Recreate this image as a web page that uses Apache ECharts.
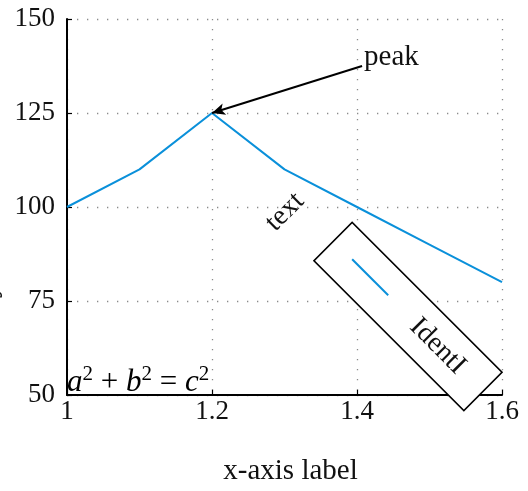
<!DOCTYPE html>
<html>
<head>
<meta charset="utf-8">
<script src="https://cdn.jsdelivr.net/npm/echarts@6/dist/echarts.min.js"></script>
<style>html,body{margin:0;padding:0;background:#fff;}#c{width:528px;height:491px;}</style>
</head>
<body>
<div id="c"></div>
<script>
var xValues = [1, 1.1, 1.2, 1.3, 1.4, 1.5, 1.6];
var yValues = [100, 110, 125, 110, 100, 90, 80];
var seriesName = 'IdentI';
var xTicks = [1, 1.2, 1.4, 1.6];
var yTicks = [50, 75, 100, 125, 150];
var xLabel = 'x-axis label';
var yLabel = 'y-axis label';
var peakFrom = [1.407, 137.5];
var peakTo = [1.2, 125];

var FONT = 'Liberation Serif';
var chart = echarts.init(document.getElementById('c'), null, {renderer: 'canvas'});
var data = xValues.map(function (x, i) { return [x, yValues[i]]; });
var grid = {left: 67, right: 26, top: 19, bottom: 93};
var gridLine = {show: true, lineStyle: {color: '#8a8a8a', width: 1.3, type: [1.3, 8.7]}};

chart.setOption({
  animation: false,
  backgroundColor: '#fff',
  grid: grid,
  xAxis: {
    type: 'value', min: xTicks[0], max: xTicks[xTicks.length - 1], interval: 0.2,
    name: xLabel, nameLocation: 'middle', nameGap: 62,
    nameTextStyle: {fontFamily: FONT, fontSize: 29, color: '#111', padding: [0, 0, 0, 12]},
    axisLine: {show: true, onZero: false, lineStyle: {color: '#000', width: 2}},
    axisTick: {show: true, inside: true, length: 5, lineStyle: {color: '#000', width: 1.2}},
    axisLabel: {fontFamily: FONT, fontSize: 27, color: '#111', margin: 3,
      formatter: function (v) { return String(parseFloat(v.toFixed(2))); }},
    splitLine: gridLine
  },
  yAxis: {
    type: 'value', min: yTicks[0], max: yTicks[yTicks.length - 1], interval: 25,
    axisLine: {show: true, onZero: false, lineStyle: {color: '#000', width: 2}},
    axisTick: {show: true, inside: true, length: 5, lineStyle: {color: '#000', width: 1.2}},
    axisLabel: {fontFamily: FONT, fontSize: 27, color: '#111', margin: 12},
    splitLine: gridLine
  },
  series: [{
    name: seriesName, type: 'line', data: data, showSymbol: false, symbol: 'none',
    lineStyle: {color: '#0a90da', width: 2}, z: 3,
    markLine: {
      silent: true, animation: false,
      label: {show: false},
      lineStyle: {color: '#000', width: 2, type: 'solid'},
      symbol: ['none', 'arrow'], symbolSize: [9, 13],
      data: [[{coord: peakFrom}, {coord: peakTo}]]
    }
  }]
});

var pPeak = chart.convertToPixel({gridIndex: 0}, peakFrom);
var ital = {fontFamily: FONT, fontStyle: 'italic', fontSize: 31, color: '#111', verticalAlign: 'bottom', lineHeight: 34};
var rom = {fontFamily: FONT, fontSize: 31, color: '#111', verticalAlign: 'bottom', lineHeight: 34};
var sup = {fontFamily: FONT, fontSize: 21, color: '#111', verticalAlign: 'top', lineHeight: 20};
chart.setOption({
  graphic: [
    {type: 'text', z: 50, x: pPeak[0] + 2, y: pPeak[1] - 9,
      style: {text: 'peak', font: '29px "' + FONT + '"', fill: '#111', align: 'left', verticalAlign: 'middle'}},
    {type: 'text', z: 50, x: 285, y: 212, rotation: Math.PI / 4,
      style: {text: 'text', font: '28px "' + FONT + '"', fill: '#111', align: 'center', verticalAlign: 'middle'}},
    {type: 'text', z: 50, x: 67, y: 398,
      style: {text: '{i|a}{s|2}{r| + }{i|b}{s|2}{r| = }{i|c}{s|2}',
        rich: {i: ital, r: rom, s: sup}, align: 'left', verticalAlign: 'bottom'}},
    {type: 'text', z: 50, x: -12, y: 231, rotation: Math.PI / 2,
      style: {text: yLabel, font: '29px "' + FONT + '"', fill: '#111', align: 'center', verticalAlign: 'middle'}},
    {type: 'group', z: 100, x: 408, y: 316.5, rotation: -Math.PI / 4,
      children: [
        {type: 'rect', z: 100, shape: {x: -106, y: -27, width: 212, height: 54},
          style: {fill: '#fff', stroke: '#000', lineWidth: 1.6}},
        {type: 'line', z: 101, shape: {x1: -80, y1: -1, x2: -29, y2: -1},
          style: {stroke: '#0a90da', lineWidth: 2}},
        {type: 'text', z: 101, x: 42, y: 0,
          style: {text: seriesName, font: '28px "' + FONT + '"', fill: '#111', align: 'center', verticalAlign: 'middle'}}
      ]}
  ]
});
</script>
</body>
</html>
